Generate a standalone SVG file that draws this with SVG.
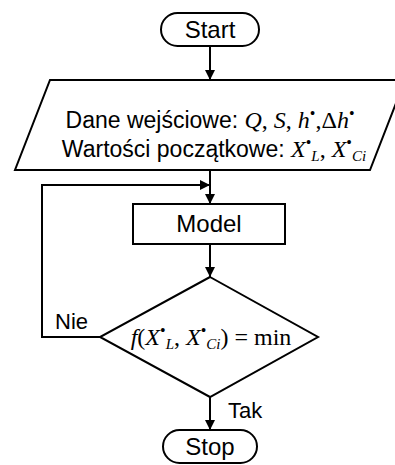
<svg xmlns="http://www.w3.org/2000/svg" width="395" height="465" viewBox="0 0 395 465">
<defs>
<style>
.sh{fill:#fff;stroke:#000;stroke-width:2}
.ln{fill:none;stroke:#000;stroke-width:2}
.t{font-family:"Liberation Sans",Arial,sans-serif;font-size:22px;fill:#000}
.n{font-size:24px}
.p{font-size:23px}
.m{font-family:"Liberation Serif","Times New Roman",serif;font-size:24px;fill:#000}
.i{font-style:italic}
.s{font-size:15px}
.b{font-size:16px}
</style>
<marker id="ah" markerWidth="10" markerHeight="10" refX="10" refY="5" orient="auto" markerUnits="userSpaceOnUse">
<path d="M0,0 L10,5 L0,10 Z" fill="#000"/>
</marker>
</defs>
<g id="connectors">
<line class="ln" x1="210" y1="46" x2="210" y2="80" marker-end="url(#ah)"/>
<line class="ln" x1="210" y1="170" x2="210" y2="204" marker-end="url(#ah)"/>
<polyline class="ln" points="100,337 42,337 42,185 210,185" marker-end="url(#ah)"/>
<line class="ln" x1="210" y1="244" x2="210" y2="277" marker-end="url(#ah)"/>
<line class="ln" x1="210" y1="397" x2="210" y2="430" marker-end="url(#ah)"/>
<text class="t" x="55" y="329">Nie</text>
<text class="t" x="228" y="418">Tak</text>
</g>
<g id="start">
<rect class="sh" x="161" y="13" width="98" height="33" rx="16.5"/>
<text class="t n" x="210" y="38" text-anchor="middle">Start</text>
</g>
<g id="input">
<polygon class="sh" points="50,80 405,80 370,170 15,170"/>
<text class="t p" x="210" y="128" text-anchor="middle">Dane wejściowe: <tspan class="m i">Q</tspan><tspan class="m">, </tspan><tspan class="m i">S</tspan><tspan class="m">, </tspan><tspan class="m i">h</tspan><tspan class="m b" dy="-9">•</tspan><tspan class="m" dy="9">,Δ</tspan><tspan class="m i">h</tspan><tspan class="m b" dy="-9">•</tspan></text>
<text class="t p" x="214" y="157" text-anchor="middle">Wartości początkowe: <tspan class="m i">X</tspan><tspan class="m b" dy="-9">•</tspan><tspan class="m i s" dy="13">L</tspan><tspan class="m" dy="-4">, </tspan><tspan class="m i">X</tspan><tspan class="m b" dy="-9">•</tspan><tspan class="m i s" dy="13">Ci</tspan></text>
</g>
<g id="model">
<rect class="sh" x="133" y="204" width="152" height="40"/>
<text class="t n" x="209" y="232" text-anchor="middle">Model</text>
</g>
<g id="decision">
<polygon class="sh" points="210,277 318,337 210,397 100,337"/>
<text class="m" x="211" y="345" text-anchor="middle"><tspan class="i">f</tspan>(<tspan class="i">X</tspan><tspan class="b" dy="-9">•</tspan><tspan class="i s" dy="13">L</tspan><tspan dy="-4">, </tspan><tspan class="i">X</tspan><tspan class="b" dy="-9">•</tspan><tspan class="i s" dy="13">Ci</tspan><tspan dy="-4">)</tspan> = min</text>
</g>
<g id="stop">
<rect class="sh" x="163" y="430" width="94" height="33" rx="16.5"/>
<text class="t n" x="210" y="455" text-anchor="middle">Stop</text>
</g>
</svg>
